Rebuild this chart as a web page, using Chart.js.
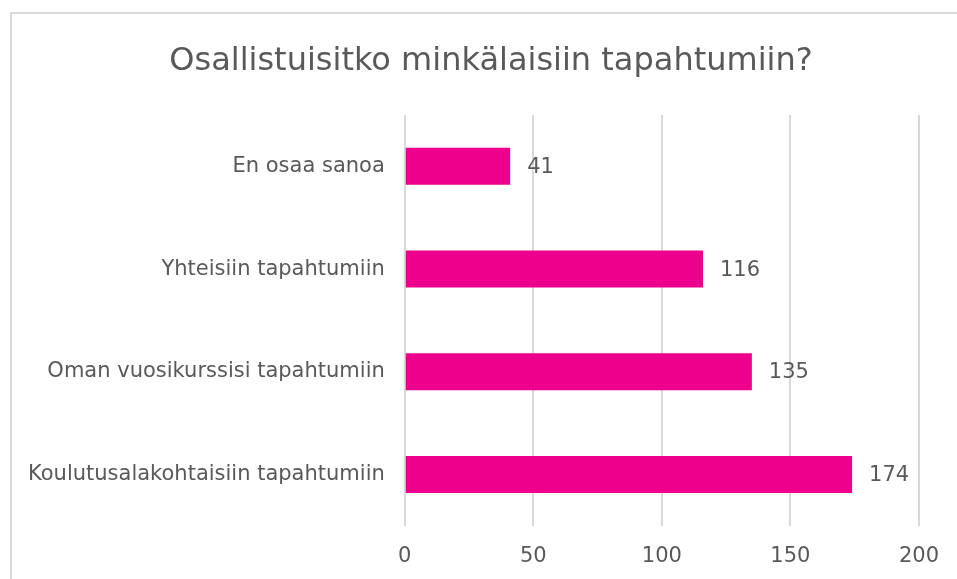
<!DOCTYPE html>
<html>
<head>
<meta charset="utf-8">
<script src="https://cdn.jsdelivr.net/npm/chart.js@4/dist/chart.umd.min.js"></script>
<style>
  html, body { margin: 0; padding: 0; background: #fff; overflow: hidden; }
  #frame { position: absolute; left: 10px; top: 12px; width: 980px; height: 600px;
           border-left: 2px solid #d9d9d9; border-top: 2px solid #d9d9d9; }
  #wrap { position: absolute; left: 0; top: 0; width: 957px; height: 595px; }
</style>
</head>
<body>
<div id="frame"></div>
<div id="wrap"><canvas id="chart"></canvas></div>
<script>
var chartTitle = 'Osallistuisitko minkälaisiin tapahtumiin?';
var categories = ['En osaa sanoa', 'Yhteisiin tapahtumiin', 'Oman vuosikurssisi tapahtumiin', 'Koulutusalakohtaisiin tapahtumiin'];
var answers = [41, 116, 135, 174];
var tickValues = [0, 50, 100, 150, 200];

var textColor = '#595959';
var fontFamily = '"DejaVu Sans", Verdana, sans-serif';

// value labels next to the bars + title centred over the frame
var extras = {
    id: 'extras',
    afterDraw: function(chart) {
        var ctx = chart.ctx;
        ctx.save();
        ctx.fillStyle = textColor;
        ctx.textBaseline = 'middle';
        ctx.font = '21px ' + fontFamily;
        ctx.textAlign = 'left';
        chart.getDatasetMeta(0).data.forEach(function(bar, i) {
            ctx.fillText(answers[i], bar.x + 17, bar.y + 1);
        });
        ctx.font = '32px ' + fontFamily;
        ctx.textAlign = 'center';
        ctx.fillText(chartTitle, 491, 62);
        ctx.restore();
    }
};

var ctx = document.getElementById('chart').getContext('2d');
var myChart = new Chart(ctx, {
    type: 'bar',
    data: {
        labels: categories,
        datasets: [{
            data: answers,
            backgroundColor: '#ec008c',
            barPercentage: 0.36,
            categoryPercentage: 1
        }]
    },
    options: {
        indexAxis: 'y',
        responsive: true,
        maintainAspectRatio: false,
        animation: false,
        layout: { padding: { left: 16, right: 37, top: 115, bottom: 8 } },
        plugins: {
            legend: { display: false },
            tooltip: { enabled: false },
            title: { display: false }
        },
        scales: {
            x: {
                min: 0,
                max: 200,
                afterBuildTicks: function(axis) {
                    axis.ticks = tickValues.map(function(v) { return { value: v }; });
                },
                grid: { color: '#d9d9d9', lineWidth: 2, drawTicks: false },
                border: { display: false },
                ticks: { color: textColor, padding: 18, font: { family: fontFamily, size: 21 } }
            },
            y: {
                grid: { display: false },
                border: { display: false },
                ticks: { color: textColor, padding: 12, font: { family: fontFamily, size: 21 } }
            }
        }
    },
    plugins: [extras]
});
</script>
</body>
</html>
